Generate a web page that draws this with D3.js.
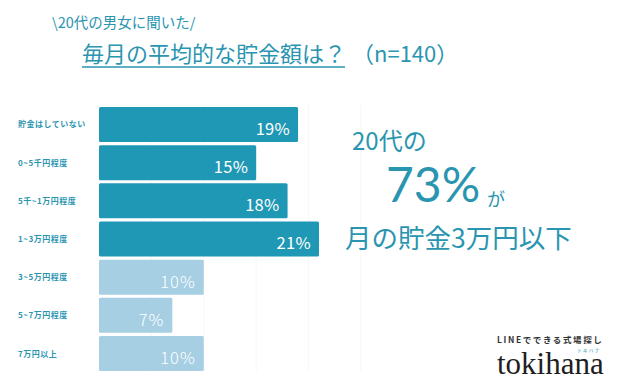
<!DOCTYPE html>
<html>
<head>
<meta charset="utf-8">
<script src="https://cdn.jsdelivr.net/npm/d3@7"></script>
<style>
  body { margin: 0; background: #fff; }
  svg { display: block; }
  text { font-family: "Noto Sans CJK JP", "Noto Sans", sans-serif; }
</style>
</head>
<body>
<div id="chart"></div>
<script>
// data
var categories = ["貯金はしていない", "0~5千円程度", "5千~1万円程度", "1~3万円程度", "3~5万円程度", "5~7万円程度", "7万円以上"]
var percents = [19, 15, 18, 21, 10, 7, 10]
var underThree = [true, true, true, true, false, false, false]
var gridTicks = [5, 10, 15, 20, 25]

var width = 621, height = 392
var teal = "#1f98b5", pale = "#a6cfe4", ink = "#2a95b0"

var svg = d3.select("#chart").append("svg")
    .attr("width", width)
    .attr("height", height)

var x = d3.scaleLinear().domain([0, 21]).range([99, 319])
var y = d3.scaleBand().domain(categories).range([107, 371]).paddingInner(0.083)

// faint grid behind the bars
svg.selectAll("line.grid")
    .data(gridTicks)
    .enter().append("line")
    .attr("class", "grid")
    .attr("x1", function(d) { return x(d) })
    .attr("x2", function(d) { return x(d) })
    .attr("y1", 105)
    .attr("y2", 372)
    .style("stroke", "#f6f7f8")
    .style("stroke-width", 1)

// titles
svg.append("text")
    .attr("x", 52).attr("y", 28)
    .attr("font-size", 14.5)
    .attr("fill", ink)
    .text("\\20代の男女に聞いた/")

svg.append("text")
    .attr("x", 82).attr("y", 62)
    .attr("font-size", 22)
    .attr("fill", ink)
    .text("毎月の平均的な貯金額は？")

svg.append("line")
    .attr("x1", 82).attr("x2", 345)
    .attr("y1", 67).attr("y2", 67)
    .style("stroke", ink)
    .style("stroke-width", 1.5)

svg.append("text")
    .attr("x", 352).attr("y", 62)
    .attr("font-size", 22)
    .attr("fill", ink)
    .text("（n=140）")

// bars
var rows = categories.map(function(c, i) {
    return { cat: c, pct: percents[i], dark: underThree[i] }
})

svg.selectAll("rect.bar")
    .data(rows)
    .enter().append("rect")
    .attr("class", "bar")
    .attr("x", x(0))
    .attr("y", function(d) { return y(d.cat) })
    .attr("width", function(d) { return x(d.pct) - x(0) })
    .attr("height", y.bandwidth())
    .attr("rx", 1.5)
    .style("fill", function(d) { return d.dark ? teal : pale })

svg.selectAll("text.value")
    .data(rows)
    .enter().append("text")
    .attr("class", "value")
    .attr("x", function(d) { return x(d.pct) - 8 })
    .attr("y", function(d) { return y(d.cat) + y.bandwidth() - 7 })
    .attr("text-anchor", "end")
    .attr("font-size", 16.5)
    .attr("font-weight", function(d) { return d.dark ? 400 : 300 })
    .attr("letter-spacing", function(d) { return d.dark ? 0.3 : 1 })
    .attr("fill", "#fff")
    .text(function(d) { return d.pct + "%" })

svg.selectAll("text.cat")
    .data(rows)
    .enter().append("text")
    .attr("class", "cat")
    .attr("x", 18)
    .attr("y", function(d) { return y(d.cat) + y.bandwidth() / 2 + 3 })
    .attr("font-size", 8)
    .attr("font-weight", 700)
    .attr("letter-spacing", 0.5)
    .attr("fill", ink)
    .text(function(d) { return d.cat })

// callout: share of the four dark bars
var share = d3.sum(rows.filter(function(d) { return d.dark }), function(d) { return d.pct })

svg.append("text")
    .attr("x", 352).attr("y", 150)
    .attr("font-size", 24)
    .attr("fill", ink)
    .text("20代の")

svg.append("text")
    .attr("x", 386).attr("y", 202)
    .style("font-family", "Lato, \"Noto Sans\", sans-serif")
    .attr("font-size", 48)
    .attr("fill", ink)
    .text(share + "%")

svg.append("text")
    .attr("x", 487).attr("y", 206)
    .attr("font-size", 18)
    .attr("fill", ink)
    .text("が")

svg.append("text")
    .attr("x", 345).attr("y", 248)
    .attr("font-size", 26.5)
    .attr("fill", ink)
    .text("月の貯金3万円以下")

// logo
svg.append("text")
    .attr("x", 497).attr("y", 343)
    .attr("font-size", 8.5)
    .attr("font-weight", 700)
    .attr("letter-spacing", 1.6)
    .attr("fill", "#333")
    .text("LINEでできる式場探し")

svg.append("text")
    .attr("x", 577).attr("y", 352)
    .attr("font-size", 5)
    .attr("letter-spacing", 0.8)
    .attr("fill", ink)
    .text("トキハナ")

svg.append("text")
    .attr("x", 497).attr("y", 374)
    .style("font-family", "\"Liberation Serif\", \"DejaVu Serif\", serif")
    .attr("font-size", 31)
    .attr("fill", "#1e1e1e")
    .text("tokihana")
</script>
</body>
</html>
